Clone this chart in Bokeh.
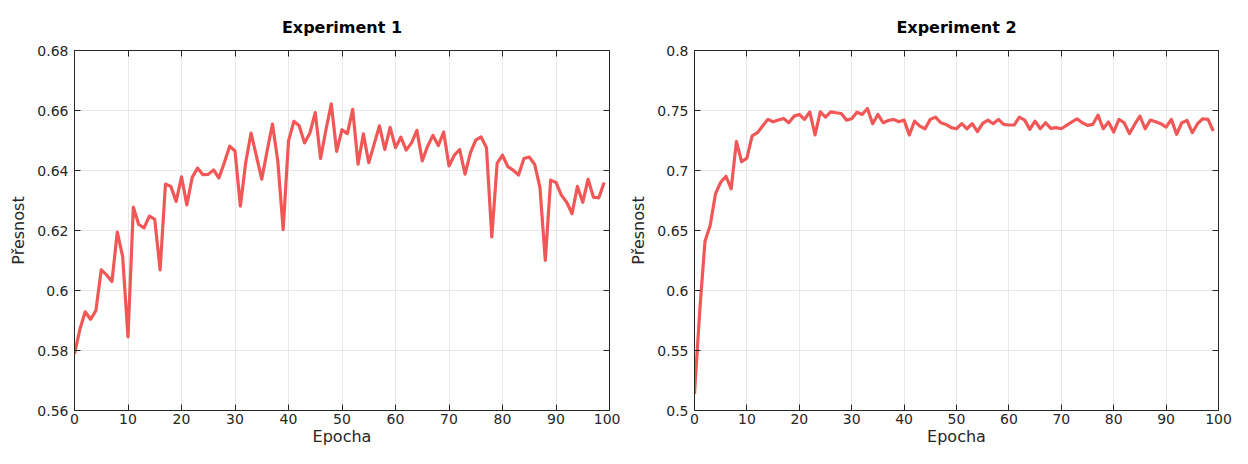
from bokeh.plotting import figure
from bokeh.layouts import row
from bokeh.models import Range1d, LinearAxis, FixedTicker, CustomJSTickFormatter
from bokeh.embed import file_html
from bokeh.resources import INLINE

epochs = list(range(100))

exp1_acc = [
    0.5789, 0.5870, 0.5929, 0.5904, 0.5933, 0.6069, 0.6052, 0.6030, 0.6195, 0.6113,
    0.5845, 0.6278, 0.6220, 0.6209, 0.6248, 0.6237, 0.6069, 0.6355, 0.6347, 0.6297,
    0.6379, 0.6285, 0.6377, 0.6408, 0.6386, 0.6387, 0.6402, 0.6375, 0.6426, 0.6481,
    0.6465, 0.6281, 0.6426, 0.6525, 0.6448, 0.6371, 0.6465, 0.6555, 0.6432, 0.6203,
    0.6498, 0.6564, 0.6549, 0.6492, 0.6525, 0.6593, 0.6440, 0.6536, 0.6622, 0.6464,
    0.6536, 0.6523, 0.6604, 0.6421, 0.6522, 0.6426, 0.6487, 0.6549, 0.6470, 0.6544,
    0.6476, 0.6511, 0.6468, 0.6492, 0.6534, 0.6432, 0.6481, 0.6517, 0.6483, 0.6528,
    0.6415, 0.6451, 0.6470, 0.6388, 0.6459, 0.6501, 0.6512, 0.6476, 0.6179, 0.6424,
    0.6451, 0.6413, 0.6401, 0.6385, 0.6440, 0.6445, 0.6421, 0.6344, 0.6100, 0.6368,
    0.6360, 0.6318, 0.6294, 0.6256, 0.6347, 0.6294, 0.6371, 0.6311, 0.6309, 0.6360,
]

exp2_acc = [
    0.5138, 0.5830, 0.6411, 0.6544, 0.6805, 0.6902, 0.6952, 0.6847, 0.7241, 0.7073,
    0.7103, 0.7288, 0.7315, 0.7370, 0.7426, 0.7406, 0.7420, 0.7434, 0.7398, 0.7453,
    0.7467, 0.7426, 0.7489, 0.7296, 0.7489, 0.7445, 0.7489, 0.7481, 0.7475, 0.7420,
    0.7431, 0.7486, 0.7467, 0.7517, 0.7390, 0.7467, 0.7398, 0.7417, 0.7426, 0.7406,
    0.7420, 0.7296, 0.7412, 0.7370, 0.7348, 0.7426, 0.7445, 0.7398, 0.7384, 0.7357,
    0.7348, 0.7390, 0.7348, 0.7390, 0.7324, 0.7393, 0.7420, 0.7390, 0.7426, 0.7384,
    0.7379, 0.7379, 0.7445, 0.7420, 0.7343, 0.7412, 0.7348, 0.7398, 0.7351, 0.7357,
    0.7348, 0.7376, 0.7404, 0.7431, 0.7398, 0.7376, 0.7384, 0.7461, 0.7348, 0.7404,
    0.7321, 0.7426, 0.7398, 0.7307, 0.7384, 0.7453, 0.7348, 0.7420, 0.7406, 0.7390,
    0.7362, 0.7426, 0.7302, 0.7398, 0.7417, 0.7315, 0.7390, 0.7431, 0.7426, 0.7329,
]

x_ticks = [0, 10, 20, 30, 40, 50, 60, 70, 80, 90, 100]
y1_ticks = [0.56, 0.58, 0.60, 0.62, 0.64, 0.66, 0.68]
y2_ticks = [0.5, 0.55, 0.6, 0.65, 0.7, 0.75, 0.8]

titles = ["Experiment 1", "Experiment 2"]
x_label = "Epocha"
y_label = "Přesnost"

LINE_COLOR = "#f25757"
AX_COLOR = "#262626"
FONT = "DejaVu Sans"

fmt_code = "return String(parseFloat(tick.toFixed(6)));"


def style_axis(ax, show_labels=True):
    ax.axis_line_color = AX_COLOR
    ax.axis_line_width = 1
    ax.major_tick_line_color = AX_COLOR
    ax.major_tick_in = 6
    ax.major_tick_out = 0
    ax.minor_tick_line_color = None
    ax.major_label_text_font = FONT
    ax.major_label_text_font_size = "14px"
    ax.major_label_text_color = "#262626"
    ax.axis_label_text_font = FONT
    ax.axis_label_text_font_size = "16px"
    ax.axis_label_text_font_style = "normal"
    ax.axis_label_text_color = "#262626"
    if show_labels:
        ax.formatter = CustomJSTickFormatter(code=fmt_code)
    else:
        ax.formatter = CustomJSTickFormatter(code="return '';")
        ax.major_label_text_font_size = "0px"
        ax.major_label_text_color = None
        ax.major_label_standoff = 0
        ax.axis_label_standoff = 0


def make_plot(title, y, yticks, yrange, width, bl, br):
    p = figure(width=width, height=448, output_backend="svg", toolbar_location=None,
               x_range=Range1d(0, 100), y_range=Range1d(*yrange),
               min_border_left=bl, min_border_right=br, min_border_top=50, min_border_bottom=30)
    p.title.text = title
    p.title.align = "center"
    p.title.text_font = FONT
    p.title.text_font_size = "16px"
    p.title.text_font_style = "bold"
    p.title.text_color = "#000000"
    p.title.standoff = 28
    p.outline_line_color = None
    p.background_fill_color = "white"
    p.border_fill_color = "white"

    p.line(epochs, y, line_color=LINE_COLOR, line_width=3.2, line_join="round")

    p.xaxis.ticker = FixedTicker(ticks=x_ticks)
    p.yaxis.ticker = FixedTicker(ticks=yticks)
    p.xaxis.axis_label = x_label
    p.yaxis.axis_label = y_label
    style_axis(p.xaxis[0])
    style_axis(p.yaxis[0])
    p.xaxis.major_label_standoff = 3
    p.xaxis.axis_label_standoff = 0
    p.yaxis.major_label_standoff = 6
    p.yaxis.axis_label_standoff = 6

    top = LinearAxis(ticker=FixedTicker(ticks=x_ticks))
    style_axis(top, show_labels=False)
    p.add_layout(top, "above")
    right = LinearAxis(ticker=FixedTicker(ticks=yticks))
    style_axis(right, show_labels=False)
    p.add_layout(right, "right")

    p.xgrid.grid_line_color = "#e8e8e8"
    p.ygrid.grid_line_color = "#e8e8e8"
    p.xgrid.grid_line_width = 1
    p.ygrid.grid_line_width = 1
    return p


p1 = make_plot(titles[0], exp1_acc, y1_ticks, (0.56, 0.68), 620, 74, 11)
p2 = make_plot(titles[1], exp2_acc, y2_ticks, (0.5, 0.8), 612, 74, 14)

layout = row(p1, p2, spacing=0)
open("out.html", "w").write(file_html(layout, INLINE))
